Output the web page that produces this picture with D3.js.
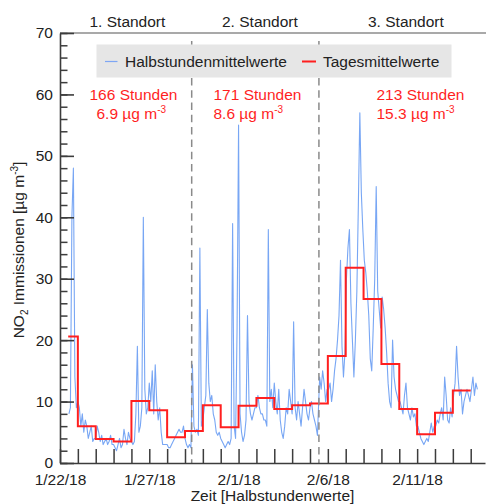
<!DOCTYPE html>
<html>
<head>
<meta charset="utf-8">
<script src="https://cdn.jsdelivr.net/npm/d3@7"></script>
<style>
  body { margin: 0; background: #fff; }
  svg text { font-family: "Liberation Sans", Arial, Helvetica, sans-serif; }
</style>
</head>
<body>
<svg id="chart" width="486" height="504"></svg>
<script>
// ---- Messkampagne: drei Standorte, 2-stündlich gemittelte Verlaufswerte ----
const messBeginn = "2018-01-22T11:00:00Z";
const standorte = ["1. Standort", "2. Standort", "3. Standort"];
const standortStunden = [166, 171, 213];
const standortMittel = ["6.9", "8.6", "15.3"];
const schrittStunden = 2;

const werteStandort1 = [
  8, 9, 40, 48, 14, 9,
  10, 9, 6, 8, 5, 7, 6, 4, 5, 6, 3.5, 4,
  4, 6, 5, 3.5, 4.5, 3, 3.5, 4, 3, 3.5, 4.5, 3,
  3, 2.5, 2, 3, 4, 2.5, 3, 5.5, 4, 3, 5, 4,
  3.5, 3, 3.5, 8, 19, 5, 6, 9, 40, 12, 8, 9,
  13, 10, 15, 8, 16, 10, 7, 9, 5, 3, 3, 3,
  3, 2.5, 2.5, 3, 3.5, 4, 4.5, 5, 5.5, 5, 5, 6,
  4, 3, 2.5, 3, 2.5
];
const werteStandort2 = [
  16, 6, 5, 5.5, 4.5, 35, 6,
  7, 9, 11, 25, 13, 10, 11, 8, 7, 5, 4.5, 5,
  4, 3.5, 3, 2.5, 3, 3.5, 3, 4, 39, 6, 4, 22,
  55, 8, 5, 3.5, 4.5, 7, 24, 10, 8, 7, 8, 9,
  9, 11, 9, 8, 8, 7, 7, 6, 38, 10, 12, 9,
  13, 10, 8, 12, 7, 5, 4, 6, 9, 8, 12, 10,
  8, 23, 9, 7, 10, 8, 6, 9, 12, 10, 8, 7,
  9, 10, 8, 7, 6, 4.5
];
const werteStandort3 = [
  14, 12, 15, 13, 10, 12,
  12, 13, 10, 12, 15, 17, 20, 24, 33, 19, 14, 18,
  30, 35, 38, 26, 20, 14, 20, 28, 42, 57, 44, 38,
  33, 31, 28, 24, 17, 15, 22, 30, 45, 28, 25, 22,
  27, 25, 22, 18, 13, 10, 9, 20, 14, 12, 11, 10,
  10, 9, 8, 11, 13, 9, 8, 7, 9, 7.5, 8, 6,
  6, 5, 4, 3.5, 3, 3.5, 4, 3.5, 5, 6.5, 5, 6,
  6, 7, 6.5, 8, 9, 7, 14, 11, 7, 6.5, 9, 7.5,
  11, 13, 19, 14, 11, 12, 8, 10, 11, 12, 11, 10,
  12, 14, 11, 13, 12
];

// Tagesmittelwerte, erster Tag ab Messbeginn, danach ab Mitternacht
const tagesmittel = [
  20.6, 6.0, 3.9, 3.5, 10.1, 8.6, 4.2, 5.2, 9.4, 5.8, 9.3, 10.6,
  8.8, 9.4, 9.7, 17.4, 31.8, 26.7, 16.1, 8.8, 4.7, 8.2, 11.8
];

const yMajorTicks = [0, 10, 20, 30, 40, 50, 60, 70];
const yMinorTicks = d3.range(0, 71, 2);
const xTickLabels = ["1/22/18", "1/27/18", "2/1/18", "2/6/18", "2/11/18"];

// ---- Aufbau ----
const svg = d3.select("#chart");
const plotLeft = 60, plotRight = 485, plotTop = 33, plotBottom = 463;
const FONT = 15.5;
const HOUR = 3600 * 1000;

const x = d3.scaleUtc()
  .domain([new Date("2018-01-22T00:00:00Z"), new Date("2018-02-14T19:13:00Z")])
  .range([plotLeft, plotRight]);
const y = d3.scaleLinear().domain([0, 70]).range([plotBottom, plotTop]);

const t0 = new Date(messBeginn).getTime();
const parseLabel = d3.utcParse("%m/%d/%y");
const labelDates = xTickLabels.map(s => +parseLabel(s));

// Standortgrenzen aus den Messstunden
const grenzen = [t0];
standortStunden.forEach(h => grenzen.push(grenzen[grenzen.length - 1] + h * HOUR));

// Verlaufspunkte je Standort
const reihen = [werteStandort1, werteStandort2, werteStandort3];
const verlauf = [];
reihen.forEach((werte, k) => {
  werte.forEach((v, i) => {
    verlauf.push({ t: new Date(grenzen[k] + (i * schrittStunden + 1) * HOUR), v });
  });
});

// Tagesmittel als Stufen
const tagStart = d3.utcDay.floor(new Date(t0));
const stufen = tagesmittel.map((v, i) => ({
  t: i === 0 ? new Date(t0) : d3.utcDay.offset(tagStart, i), v
}));
stufen.push({ t: d3.utcDay.offset(tagStart, tagesmittel.length), v: tagesmittel[tagesmittel.length - 1] });

// Rahmen oben
svg.append("line")
  .attr("x1", plotLeft).attr("x2", 486).attr("y1", plotTop).attr("y2", plotTop)
  .attr("stroke", "#8c8c8c").attr("stroke-width", 1.6);

// Halbstundenverlauf
svg.append("path")
  .datum(verlauf)
  .attr("fill", "none")
  .attr("stroke", "#6096f2")
  .attr("stroke-opacity", 0.85)
  .attr("stroke-width", 1.1)
  .attr("stroke-linejoin", "round")
  .attr("d", d3.line().x(d => x(d.t)).y(d => y(d.v)));

// Tagesmittel
svg.append("path")
  .datum(stufen)
  .attr("fill", "none")
  .attr("stroke", "#ff1f1f")
  .attr("stroke-width", 2)
  .attr("d", d3.line().curve(d3.curveStepAfter).x(d => x(d.t)).y(d => y(d.v)));

// Standortgrenzen
svg.selectAll("line.grenze")
  .data(grenzen.slice(1, 3))
  .join("line")
  .attr("class", "grenze")
  .attr("x1", d => x(new Date(d))).attr("x2", d => x(new Date(d)))
  .attr("y1", 41).attr("y2", plotBottom)
  .attr("stroke", "#8a8a8a").attr("stroke-width", 1.5)
  .attr("stroke-dasharray", "7.5,4.8");

// x-Achse
const xAxis = svg.append("g")
  .attr("transform", `translate(0,${plotBottom})`)
  .call(d3.axisBottom(x)
    .ticks(d3.utcDay.every(1))
    .tickSizeInner(-14).tickSizeOuter(0).tickPadding(11)
    .tickFormat(d => {
      const i = labelDates.indexOf(+d);
      return i >= 0 ? xTickLabels[i] : "";
    }));
xAxis.select(".domain").attr("stroke", "#3c3c3c").attr("stroke-width", 1.6);
xAxis.selectAll(".tick line").attr("stroke", "#3c3c3c").attr("stroke-width", 1.5);
xAxis.selectAll(".tick text").attr("font-size", FONT).attr("fill", "#222");

// y-Achse: kleine Teilstriche
const yMinor = svg.append("g")
  .attr("transform", `translate(${plotLeft},0)`)
  .call(d3.axisLeft(y).tickValues(yMinorTicks).tickSizeInner(-7.5).tickSizeOuter(0).tickFormat(""));
yMinor.select(".domain").remove();
yMinor.selectAll(".tick line").attr("stroke", "#3c3c3c").attr("stroke-width", 1.5);

// y-Achse: Hauptstriche mit Beschriftung
const yAxis = svg.append("g")
  .attr("transform", `translate(${plotLeft},0)`)
  .call(d3.axisLeft(y).tickValues(yMajorTicks).tickSizeInner(-14).tickSizeOuter(0).tickPadding(7));
yAxis.select(".domain").attr("stroke", "#3c3c3c").attr("stroke-width", 1.6);
yAxis.selectAll(".tick line").attr("stroke", "#3c3c3c").attr("stroke-width", 1.6);
yAxis.selectAll(".tick text").attr("font-size", FONT).attr("fill", "#222");

// Achsentitel
svg.append("text")
  .attr("x", (plotLeft + plotRight) / 2).attr("y", 501)
  .attr("text-anchor", "middle").attr("font-size", FONT).attr("fill", "#222")
  .text("Zeit [Halbstundenwerte]");

const yTitel = svg.append("text")
  .attr("transform", `translate(24,${(plotTop + plotBottom) / 2 + 2}) rotate(-90)`)
  .attr("text-anchor", "middle").attr("font-size", FONT).attr("fill", "#222");
yTitel.append("tspan").text("NO");
yTitel.append("tspan").attr("font-size", 10).attr("dy", 4).text("2");
yTitel.append("tspan").attr("dy", -4).text(" Immissionen [µg m");
yTitel.append("tspan").attr("font-size", 10).attr("dy", -6).text("-3");
yTitel.append("tspan").attr("dy", 6).text("]");

// Standortüberschriften und Kennwerte
const kopfX = [89.5, 222, 368];
const kennX = [[89.5, 96.5], [213.5, 213.5], [376.5, 376.5]];
standorte.forEach((name, k) => {
  svg.append("text")
    .attr("x", kopfX[k]).attr("y", 26.5)
    .attr("font-size", FONT).attr("fill", "#222")
    .text(name);
  svg.append("text")
    .attr("x", kennX[k][0]).attr("y", 100)
    .attr("font-size", FONT).attr("fill", "#ff1f1f")
    .text(`${standortStunden[k]} Stunden`);
  const t = svg.append("text")
    .attr("x", kennX[k][1]).attr("y", 118.5)
    .attr("font-size", FONT).attr("fill", "#ff1f1f");
  t.append("tspan").text(`${standortMittel[k]} µg m`);
  t.append("tspan").attr("font-size", 10).attr("dy", -6).text("-3");
});

// Legende
const leg = svg.append("g");
leg.append("rect")
  .attr("x", 96.5).attr("y", 44.5).attr("width", 355).attr("height", 33)
  .attr("fill", "#e6e6e6");
leg.append("line")
  .attr("x1", 105).attr("x2", 117.5).attr("y1", 61.5).attr("y2", 61.5)
  .attr("stroke", "#7ea6f4").attr("stroke-width", 1.2);
leg.append("text")
  .attr("x", 125).attr("y", 66.5).attr("font-size", FONT).attr("fill", "#222")
  .text("Halbstundenmittelwerte");
leg.append("line")
  .attr("x1", 302).attr("x2", 316).attr("y1", 61.5).attr("y2", 61.5)
  .attr("stroke", "#ff1f1f").attr("stroke-width", 2);
leg.append("text")
  .attr("x", 323).attr("y", 66.5).attr("font-size", FONT).attr("fill", "#222")
  .text("Tagesmittelwerte");
</script>
</body>
</html>
